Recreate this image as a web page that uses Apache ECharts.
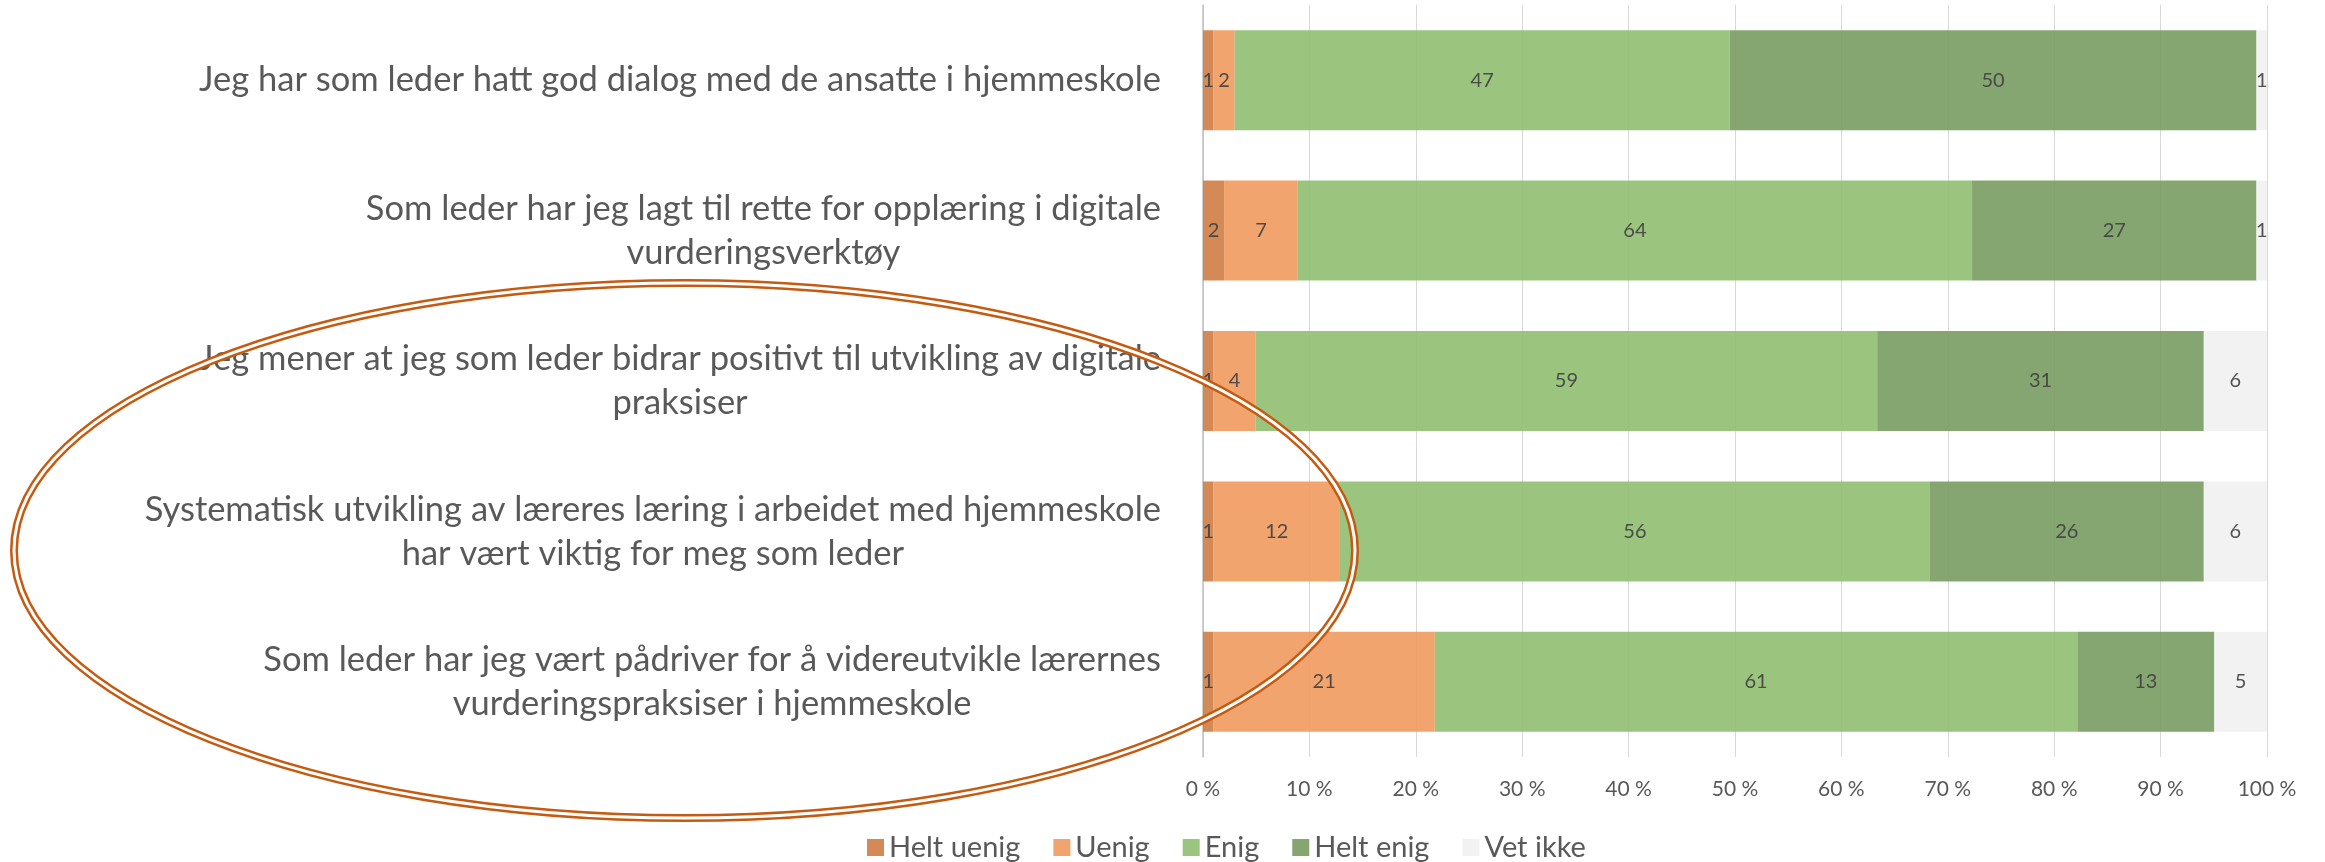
<!DOCTYPE html>
<html>
<head>
<meta charset="utf-8">
<script src="https://cdn.jsdelivr.net/npm/echarts@6/dist/echarts.min.js"></script>
<style>
html,body{margin:0;padding:0;background:#fff;}
#chart{width:2325px;height:862px;}
</style>
</head>
<body>
<div id="chart"></div>
<script>
const categories = [
  "Jeg har som leder hatt god dialog med de ansatte i hjemmeskole",
  "Som leder har jeg lagt til rette for opplæring i digitale\nvurderingsverktøy",
  "Jeg mener at jeg som leder bidrar positivt til utvikling av digitale\npraksiser",
  "Systematisk utvikling av læreres læring i arbeidet med hjemmeskole\nhar vært viktig for meg som leder",
  "Som leder har jeg vært pådriver for å videreutvikle lærernes\nvurderingspraksiser i hjemmeskole"
];
const seriesNames = ["Helt uenig", "Uenig", "Enig", "Helt enig", "Vet ikke"];
const heltUenig = [1, 2, 1, 1, 1];
const uenig     = [2, 7, 4, 12, 21];
const enig      = [47, 64, 59, 56, 61];
const heltEnig  = [50, 27, 31, 26, 13];
const vetIkke   = [1, 1, 6, 6, 5];
const tickLabels = ["0 %","10 %","20 %","30 %","40 %","50 %","60 %","70 %","80 %","90 %","100 %"];

const seriesValues = [heltUenig, uenig, enig, heltEnig, vetIkke];
const colors = ["#CF7D45", "#F09A5E", "#90BE70", "#789C62", "#F1F1F1"];
const FONT = "Lato, 'Noto Sans', sans-serif";

const totals = categories.map((_, i) => seriesValues.reduce((s, arr) => s + arr[i], 0));

const chart = echarts.init(document.getElementById('chart'), null, {renderer: 'canvas'});

const series = seriesNames.map((name, si) => ({
  name: name,
  type: 'bar',
  stack: 'total',
  barCategoryGap: '33.5%',
  itemStyle: {color: colors[si], opacity: 0.9},
  emphasis: {disabled: true},
  label: {
    show: true,
    position: 'inside',
    fontFamily: FONT,
    fontSize: 20,
    color: '#404040',
    formatter: p => String(seriesValues[si][p.dataIndex])
  },
  data: seriesValues[si].map((v, i) => v / totals[i] * 100)
}));

chart.setOption({
  animation: false,
  textStyle: {fontFamily: FONT},
  grid: {left: 1203, right: 58, top: 5, bottom: 105, containLabel: false},
  xAxis: {
    type: 'value',
    min: 0, max: 100, interval: 10,
    axisLine: {show: false},
    axisTick: {show: false},
    splitLine: {show: true, lineStyle: {color: '#D9D9D9', width: 1}},
    axisLabel: {
      margin: 22,
      fontFamily: FONT,
      fontSize: 21,
      color: '#595959',
      formatter: v => tickLabels[Math.round(v / 10)]
    }
  },
  yAxis: {
    type: 'category',
    inverse: true,
    data: categories,
    axisLine: {show: true, lineStyle: {color: '#BFBFBF', width: 1.5}},
    axisTick: {show: false},
    axisLabel: {
      margin: 42,
      align: 'right',
      formatter: v => v.split('\n').map(l => '{c|' + l + '}').join('\n'),
      rich: {
        c: {align: 'center', fontFamily: FONT, fontSize: 34.5, lineHeight: 44, color: '#595959'}
      }
    }
  },
  legend: {
    data: seriesNames,
    left: 862,
    top: 828,
    itemWidth: 17,
    itemHeight: 17,
    itemGap: 33,
    icon: 'rect',
    selectedMode: false,
    textStyle: {fontFamily: FONT, fontSize: 29, color: '#595959'}
  },
  graphic: [
    {type: 'ellipse', z: 100, silent: true,
     shape: {cx: 684.5, cy: 550.5, rx: 670.5, ry: 267.5},
     style: {fill: null, stroke: '#C55A11', lineWidth: 8}},
    {type: 'ellipse', z: 101, silent: true,
     shape: {cx: 684.5, cy: 550.5, rx: 670.5, ry: 267.5},
     style: {fill: null, stroke: '#FFFFFF', lineWidth: 3}}
  ],
  series: series
});
</script>
</body>
</html>
